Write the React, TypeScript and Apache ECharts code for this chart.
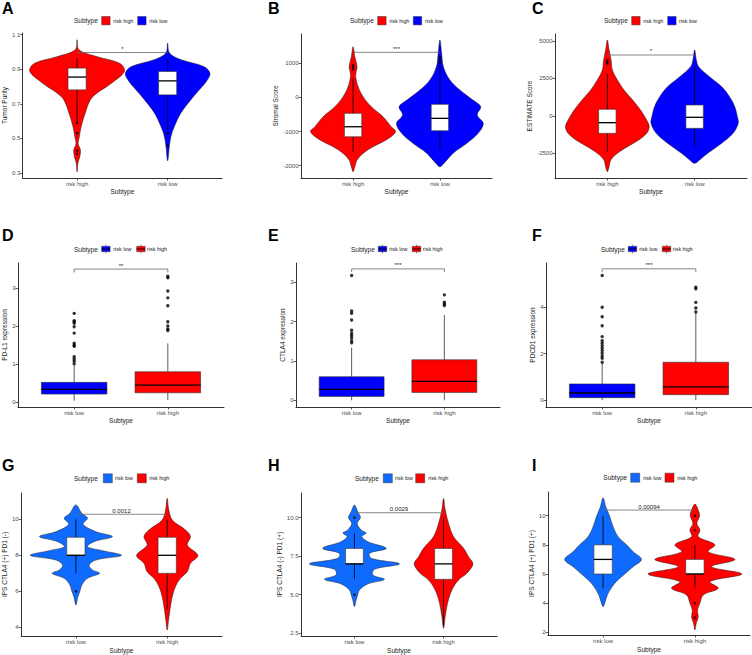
import React, { useEffect, useRef } from "react";
import * as echarts from "echarts";

const FONT = "'Liberation Sans', Arial, Helvetica, sans-serif";
const RED = "#FF0000";
const BLUE = "#0000FF";
const BLUE_IPS = "#0F6BFF";

// ---------- panel meta ----------
const panelLetters = ["A", "B", "C", "D", "E", "F", "G", "H", "I"];
const yAxisTitles = [
  "Tumor Purity",
  "Stromal Score",
  "ESTIMATE Score",
  "PD-L1 expression",
  "CTLA4 expression",
  "PDCD1 expression",
  "IPS CTLA4 (+) PD1 (-)",
  "IPS CTLA4 (-) PD1 (+)",
  "IPS CTLA4 (+) PD1 (+)",
];
const xAxisTitle = "Subtype";
const legendTitle = "Subtype";
const catsHighFirst = ["risk high", "risk low"];
const catsLowFirst = ["risk low", "risk high"];
const panelCategories = [
  catsHighFirst, catsHighFirst, catsHighFirst,
  catsLowFirst, catsLowFirst, catsLowFirst,
  catsLowFirst, catsLowFirst, catsLowFirst,
];
const panelColors = [
  [RED, BLUE], [RED, BLUE], [RED, BLUE],
  [BLUE, RED], [BLUE, RED], [BLUE, RED],
  [BLUE_IPS, RED], [BLUE_IPS, RED], [BLUE_IPS, RED],
];
const panelKinds = ["violin", "violin", "violin", "box", "box", "box", "violin", "violin", "violin"];

// ---------- y axes ----------
const yTickValues = [
  [0.3, 0.5, 0.7, 0.9, 1.1],
  [-2000, -1000, 0, 1000],
  [-2500, 0, 2500, 5000],
  [0, 1, 2, 3],
  [0, 1, 2, 3],
  [0, 2, 4],
  [4, 6, 8, 10],
  [2.5, 5, 7.5, 10],
  [2, 4, 6, 8, 10],
];
const yTickLabels = [
  ["0.3", "0.5", "0.7", "0.9", "1.1"],
  ["-2000", "-1000", "0", "1000"],
  ["-2500", "0", "2500", "5000"],
  ["0", "1", "2", "3"],
  ["0", "1", "2", "3"],
  ["0", "2", "4"],
  ["4", "6", "8", "10"],
  ["2.5", "5.0", "7.5", "10.0"],
  ["2", "4", "6", "8", "10"],
];
const yMin = [0.271, -2361, -4150, -0.13, -0.17, -0.29, 3.52, 2.32, 1.81];
const yMax = [1.11, 1859, 5467, 3.67, 3.49, 5.89, 11.46, 11.6, 11.63];

// ---------- violin density profiles: [value, half width in category units] ----------
const violinA_high = [[1.071, 0], [1.013, 0.02], [0.974, 0.215], [0.935, 0.47], [0.897, 0.525], [0.87, 0.5], [0.839, 0.43], [0.8, 0.33], [0.762, 0.22], [0.723, 0.146], [0.647, 0.09], [0.567, 0.045], [0.51, 0.025], [0.47, 0.012], [0.433, 0.037], [0.395, 0.03], [0.358, 0.01], [0.306, 0]];
const violinA_low = [[1.052, 0], [0.994, 0.02], [0.955, 0.15], [0.916, 0.4], [0.878, 0.467], [0.839, 0.44], [0.781, 0.35], [0.723, 0.255], [0.647, 0.146], [0.567, 0.073], [0.51, 0.036], [0.45, 0.018], [0.37, 0]];
const violinB_high = [[1487, 0], [1194, 0.02], [900, 0.046], [750, 0.035], [607, 0.03], [314, 0.058], [21, 0.115], [-273, 0.21], [-566, 0.345], [-859, 0.44], [-1005, 0.49], [-1249, 0.38], [-1445, 0.23], [-1640, 0.115], [-1836, 0.046], [-2032, 0.02], [-2179, 0]];
const violinB_low = [[1683, 0], [1293, 0.02], [900, 0.04], [510, 0.115], [217, 0.23], [-76, 0.38], [-273, 0.47], [-516, 0.43], [-760, 0.5], [-1053, 0.44], [-1346, 0.31], [-1640, 0.15], [-1933, 0.046], [-2032, 0]];
const violinC_high = [[5067, 0], [4399, 0.02], [3650, 0.045], [3063, 0.057], [2395, 0.115], [1727, 0.19], [1059, 0.29], [391, 0.38], [-277, 0.45], [-722, 0.48], [-1166, 0.45], [-1613, 0.36], [-2061, 0.23], [-2502, 0.115], [-2949, 0.04], [-3397, 0.02], [-3731, 0]];
const violinC_low = [[4399, 0], [3731, 0.02], [3283, 0.046], [2616, 0.17], [1947, 0.31], [1279, 0.4], [611, 0.46], [-57, 0.49], [-498, 0.5], [-1166, 0.44], [-1834, 0.31], [-2502, 0.15], [-2949, 0.057], [-3170, 0]];
const violinG_low = [[10.8, 0], [10.33, 0.065], [10.06, 0.127], [9.72, 0.08], [9.31, 0.22], [9.04, 0.4], [8.76, 0.2], [8.48, 0.127], [8.26, 0.29], [8.0, 0.5], [7.74, 0.22], [7.46, 0.145], [7.19, 0.18], [7.0, 0.26], [6.72, 0.127], [6.35, 0.065], [6.0, 0.044], [5.7, 0.022], [5.24, 0]];
const violinG_high = [[11.17, 0], [10.52, 0.018], [9.96, 0.055], [9.41, 0.2], [9.04, 0.255], [8.57, 0.22], [8.0, 0.335], [7.56, 0.255], [7.09, 0.22], [6.72, 0.145], [6.26, 0.09], [5.7, 0.055], [4.96, 0.03], [4.41, 0.015], [3.85, 0]];
const violinH_low = [[10.82, 0], [10.39, 0.037], [10.0, 0.067], [9.63, 0.03], [9.2, 0.075], [9.0, 0.13], [8.77, 0.082], [8.44, 0.15], [8.01, 0.356], [7.69, 0.17], [7.36, 0.187], [7.0, 0.506], [6.65, 0.225], [6.28, 0.206], [6.0, 0.337], [5.7, 0.15], [5.31, 0.056], [5.0, 0.037], [4.66, 0.019], [4.23, 0]];
const violinH_high = [[11.25, 0], [10.5, 0.019], [9.63, 0.056], [8.77, 0.112], [8.01, 0.225], [7.47, 0.28], [7.0, 0.33], [6.39, 0.262], [5.96, 0.169], [5.31, 0.094], [4.45, 0.045], [3.58, 0.019], [2.82, 0]];
const violinI_low = [[11.23, 0], [10.62, 0.029], [9.93, 0.073], [9.25, 0.109], [8.56, 0.164], [8.01, 0.255], [7.53, 0.327], [7.0, 0.418], [6.5, 0.327], [6.0, 0.236], [5.36, 0.127], [4.67, 0.055], [4.22, 0.029], [3.76, 0]];
const violinI_high = [[10.8, 0], [10.39, 0.036], [10.0, 0.051], [9.47, 0.022], [9.02, 0.055], [8.56, 0.036], [8.01, 0.218], [7.53, 0.145], [7.0, 0.436], [6.5, 0.182], [6.0, 0.51], [5.47, 0.164], [5.02, 0.255], [4.56, 0.091], [4.0, 0.055], [3.53, 0.029], [3.03, 0.036], [2.62, 0.015], [2.16, 0]];

const violinProfiles: any[] = [
  [violinA_high, violinA_low],
  [violinB_high, violinB_low],
  [violinC_high, violinC_low],
  null, null, null,
  [violinG_low, violinG_high],
  [violinH_low, violinH_high],
  [violinI_low, violinI_high],
];

// ---------- box stats: [lower whisker, Q1, median, Q3, upper whisker] ----------
const boxA = [[0.6, 0.781, 0.855, 0.907, 0.965], [0.55, 0.752, 0.833, 0.887, 0.959]];
const boxB = [[-1592, -1152, -859, -466, 550], [-1543, -976, -613, -202, 950]];
const boxC = [[-2394, -1166, -455, 437, 2800], [-2166, -832, -97, 724, 3283]];
const boxD = [[0.035, 0.21, 0.335, 0.52, 0.976], [0.053, 0.245, 0.449, 0.8, 1.55]];
const boxE = [[0.0, 0.1, 0.28, 0.6, 1.34], [0.0, 0.2, 0.48, 1.03, 2.17]];
const boxF = [[0.0, 0.11, 0.31, 0.7, 1.59], [0.0, 0.24, 0.57, 1.63, 3.73]];
const boxG = [[7, 8, 8, 9, 10], [5, 7, 8, 9, 10]];
const boxH = [[6, 7, 7, 8, 9], [3, 6, 7, 8, 10]];
const boxI = [[5, 6, 7, 8, 10], [5, 6, 6, 7, 8]];
const boxStats = [boxA, boxB, boxC, boxD, boxE, boxF, boxG, boxH, boxI];

// ---------- outliers ----------
const outA = [[0.59, 0.53, 0.43, 0.41], [0.53, 0.458]];
const outB = [[820, 880, 940], [1020, 1100, 1180]];
const outC = [[3500, 3600, 3700], []];
const outD = [[2.34, 2.145, 2.12, 2.08, 1.99, 1.82, 1.55, 1.5, 1.47, 1.195, 1.135, 1.08, 1.01], [3.32, 3.28, 2.93, 2.75, 2.54, 2.12, 2.01, 1.93, 1.89]];
const outE = [[3.17, 2.27, 2.21, 2.04, 1.78, 1.7, 1.64, 1.58, 1.51, 1.46], [2.68, 2.49, 2.45, 2.41]];
const outF = [[5.35, 3.99, 3.58, 3.2, 2.73, 2.55, 2.45, 2.34, 2.23, 2.13, 2.02, 1.9, 1.8, 1.63], [4.85, 4.78, 4.2, 3.96, 3.79]];
const outG = [[6], []];
const outH = [[10, 5], []];
const outI = [[], [10, 9, 4, 3]];
const outliers = [outA, outB, outC, outD, outE, outF, outG, outH, outI];

// ---------- significance ----------
const sigLabels = ["*", "***", "*", "**", "***", "***", "0.0012", "0.0029", "0.00094"];
const sigY = [0.997, 1322, 4065, 3.51, 3.34, 5.64, 10.28, 10.32, 10.39];
const sigTip = [0, 0, 0, 0.09, 0.08, 0.15, 0, 0, 0];

// ---------- layout (positions only) ----------
const grids = [
  { left: 21, top: 33, width: 201, height: 145 },
  { left: 301, top: 34, width: 191, height: 144 },
  { left: 555, top: 34, width: 192, height: 144 },
  { left: 18, top: 263, width: 206, height: 144 },
  { left: 296, top: 263, width: 204, height: 144 },
  { left: 546, top: 263, width: 206, height: 144 },
  { left: 20, top: 493, width: 202, height: 143 },
  { left: 301, top: 493, width: 196, height: 143 },
  { left: 548, top: 492, width: 202, height: 143 },
];
const yNameGap = [12.5, 22.5, 21, 8, 9.2, 9.2, 11.5, 15.8, 11.8];
const xNameGap = [10, 10, 10, 9.5, 9.5, 9.5, 10.5, 10.5, 10.5];
const letterPos = [
  [2, 9.5], [268, 9.5], [532, 9.5],
  [2, 236], [268, 236], [532, 236],
  [2, 466.5], [268, 466.5], [532, 466.5],
];
const legendPos = [
  { t: 74, y: 20.7, k1: 101.7, t1: 113.3, k2: 137.7, t2: 149.3 },
  { t: 350, y: 20.7, k1: 377.7, t1: 389.3, k2: 413.3, t2: 425 },
  { t: 604, y: 20.7, k1: 631.7, t1: 643.3, k2: 667.7, t2: 679 },
  { t: 74, y: 249, k1: 101.7, t1: 113.3, k2: 136.7, t2: 147 },
  { t: 351, y: 249, k1: 378.3, t1: 389.3, k2: 412.3, t2: 422.7 },
  { t: 601, y: 249, k1: 628.3, t1: 639.3, k2: 662.3, t2: 672.7 },
  { t: 74, y: 478.3, k1: 103.3, t1: 115, k2: 137.3, t2: 149.3 },
  { t: 355, y: 478.3, k1: 383.3, t1: 395, k2: 415.7, t2: 428.3 },
  { t: 603.3, y: 477.7, k1: 630.7, t1: 643.3, k2: 665, t2: 677.3 },
];

function buildOption() {
  const grid: any[] = [];
  const xAxis: any[] = [];
  const yAxis: any[] = [];
  const series: any[] = [];
  const graphic: any[] = [];

  for (let p = 0; p < 9; p++) {
    const cats = panelCategories[p];
    const cols = panelColors[p];
    const isViolin = panelKinds[p] === "violin";
    grid.push({ ...grids[p], containLabel: false });
    xAxis.push({
      type: "value",
      gridIndex: p,
      min: 0.4,
      max: 2.6,
      splitLine: { show: false },
      axisLine: { show: true, onZero: false, lineStyle: { color: "#333", width: 1 } },
      axisTick: { show: true, customValues: [1, 2], length: 2.5, lineStyle: { color: "#333", width: 0.8 } },
      axisLabel: {
        customValues: [1, 2],
        formatter: (v: number) => cats[Math.round(v) - 1] || "",
        fontSize: 6,
        color: "#4D4D4D",
        margin: 2.5,
        fontFamily: FONT,
      },
      name: xAxisTitle,
      nameLocation: "middle",
      nameGap: xNameGap[p],
      nameTextStyle: { fontSize: 6.5, color: "#222", fontWeight: "normal", fontFamily: FONT },
    });
    const ticks = yTickValues[p];
    const labels = yTickLabels[p];
    yAxis.push({
      type: "value",
      gridIndex: p,
      min: yMin[p],
      max: yMax[p],
      splitLine: { show: false },
      axisLine: { show: true, onZero: false, lineStyle: { color: "#333", width: 1 } },
      axisTick: { show: true, customValues: ticks, length: 2.5, lineStyle: { color: "#333", width: 0.8 } },
      axisLabel: {
        customValues: ticks,
        formatter: (v: number) => {
          const i = ticks.findIndex((t) => Math.abs(t - v) < 1e-6 * Math.max(1, Math.abs(t)));
          return i >= 0 ? labels[i] : String(v);
        },
        fontSize: 6,
        color: "#4D4D4D",
        margin: 2.5,
        fontFamily: FONT,
      },
      name: yAxisTitles[p],
      nameLocation: "middle",
      nameGap: yNameGap[p],
      nameTextStyle: { fontSize: 6.5, color: "#222", fontWeight: "normal", fontFamily: FONT },
    });

    if (isViolin) {
      const profs = violinProfiles[p];
      series.push({
        type: "custom",
        xAxisIndex: p,
        yAxisIndex: p,
        silent: true,
        z: 2,
        data: [[1, boxStats[p][0][2]], [2, boxStats[p][1][2]]],
        renderItem: (params: any, api: any) => {
          const i = params.dataIndex;
          const prof = profs[i];
          const cx = api.value(0);
          const pts: number[][] = [];
          for (let k = 0; k < prof.length; k++) pts.push(api.coord([cx + prof[k][1], prof[k][0]]));
          for (let k = prof.length - 2; k >= 1; k--) pts.push(api.coord([cx - prof[k][1], prof[k][0]]));
          return {
            type: "polygon",
            shape: { points: pts, smooth: 0.35 },
            style: { fill: cols[i], stroke: "#1a1a1a", lineWidth: 0.5 },
          };
        },
      });
    }

    const bw = isViolin ? 0.2 : 0.7;
    series.push({
      type: "custom",
      xAxisIndex: p,
      yAxisIndex: p,
      silent: true,
      z: 3,
      dimensions: ["x", "lo", "q1", "md", "q3", "hi"],
      encode: { x: 0, y: [1, 2, 3, 4, 5] },
      data: boxStats[p].map((b, i) => [i + 1, ...b]),
      renderItem: (params: any, api: any) => {
        const i = params.dataIndex;
        const x = api.value(0);
        const lo = api.value(1), q1 = api.value(2), md = api.value(3), q3 = api.value(4), hi = api.value(5);
        const tl = api.coord([x - bw / 2, q3]);
        const br = api.coord([x + bw / 2, q1]);
        const ml = api.coord([x - bw / 2, md]);
        const mr = api.coord([x + bw / 2, md]);
        const c = (v: number) => api.coord([x, v]);
        const wc = isViolin ? "#000" : "#333";
        return {
          type: "group",
          children: [
            { type: "line", shape: { x1: c(q3)[0], y1: c(q3)[1], x2: c(hi)[0], y2: c(hi)[1] }, style: { stroke: wc, lineWidth: 0.8 } },
            { type: "line", shape: { x1: c(q1)[0], y1: c(q1)[1], x2: c(lo)[0], y2: c(lo)[1] }, style: { stroke: wc, lineWidth: 0.8 } },
            {
              type: "rect",
              shape: { x: tl[0], y: tl[1], width: br[0] - tl[0], height: br[1] - tl[1] },
              style: { fill: isViolin ? "#FFFFFF" : cols[i], stroke: "#333", lineWidth: 0.6 },
            },
            { type: "line", shape: { x1: ml[0], y1: ml[1], x2: mr[0], y2: mr[1] }, style: { stroke: "#000", lineWidth: 1.3 } },
          ],
        };
      },
    });

    const pts: number[][] = [];
    outliers[p].forEach((arr, i) => arr.forEach((v) => pts.push([i + 1, v])));
    series.push({
      type: "scatter",
      xAxisIndex: p,
      yAxisIndex: p,
      silent: true,
      z: 4,
      symbol: "circle",
      symbolSize: isViolin ? 2.6 : 3.4,
      itemStyle: { color: "#000" },
      data: pts,
    });

    const tip = sigTip[p];
    const lab = sigLabels[p];
    series.push({
      type: "custom",
      xAxisIndex: p,
      yAxisIndex: p,
      silent: true,
      z: 5,
      data: [[1, 2, sigY[p]]],
      renderItem: (params: any, api: any) => {
        const x1 = api.value(0), x2 = api.value(1), y = api.value(2);
        const a = api.coord([x1, y]);
        const b = api.coord([x2, y]);
        const pointsArr = tip > 0
          ? [api.coord([x1, y - tip]), a, b, api.coord([x2, y - tip])]
          : [a, b];
        return {
          type: "group",
          children: [
            { type: "polyline", shape: { points: pointsArr }, style: { stroke: "#666", lineWidth: 0.8, fill: null } },
            {
              type: "text",
              x: (a[0] + b[0]) / 2,
              y: a[1] - 0.5,
              style: { text: lab, fontSize: 6, fontFamily: FONT, fill: "#222", align: "center", verticalAlign: "bottom" },
            },
          ],
        };
      },
    });

    // panel letter
    graphic.push({
      type: "text",
      left: letterPos[p][0],
      top: letterPos[p][1] - 9,
      style: { text: panelLetters[p], fontSize: 16, fontWeight: "bold", fontFamily: FONT, fill: "#000" },
    });

    // legend
    const L = legendPos[p];
    graphic.push({
      type: "text",
      x: L.t,
      y: L.y,
      style: { text: legendTitle, fontSize: 6.5, fontFamily: FONT, fill: "#222", verticalAlign: "middle", align: "left" },
    });
    const keyXs = [L.k1, L.k2];
    const txtXs = [L.t1, L.t2];
    for (let i = 0; i < 2; i++) {
      const kx = keyXs[i];
      if (isViolin) {
        const s = p >= 6 ? 9 : 8.4;
        graphic.push({
          type: "rect",
          shape: { x: kx, y: L.y - s / 2, width: s, height: s },
          style: { fill: cols[i], stroke: "#333", lineWidth: 0.5 },
        });
      } else {
        const w = 8.4, h = 5.4;
        graphic.push({
          type: "group",
          children: [
            { type: "line", shape: { x1: kx + w / 2, y1: L.y - 4.3, x2: kx + w / 2, y2: L.y + 4.3 }, style: { stroke: "#333", lineWidth: 0.6 } },
            { type: "rect", shape: { x: kx, y: L.y - h / 2, width: w, height: h }, style: { fill: cols[i], stroke: "#333", lineWidth: 0.5 } },
            { type: "line", shape: { x1: kx, y1: L.y, x2: kx + w, y2: L.y }, style: { stroke: "#000", lineWidth: 0.9 } },
          ],
        });
      }
      graphic.push({
        type: "text",
        x: txtXs[i],
        y: L.y,
        style: { text: cats[i], fontSize: 5.4, fontFamily: FONT, fill: "#222", verticalAlign: "middle", align: "left" },
      });
    }
  }

  return {
    animation: false,
    backgroundColor: "#FFFFFF",
    textStyle: { fontFamily: FONT },
    grid,
    xAxis,
    yAxis,
    series,
    graphic,
  };
}

export default function App() {
  const ref = useRef<HTMLDivElement>(null);
  useEffect(() => {
    if (!ref.current) return;
    const chart = echarts.init(ref.current, null, { renderer: "svg" });
    chart.setOption(buildOption() as any);
    return () => chart.dispose();
  }, []);
  return (
    <div
      ref={ref}
      style={{ position: "absolute", left: 0, top: 0, width: 752, height: 655, background: "#fff" }}
    />
  );
}
